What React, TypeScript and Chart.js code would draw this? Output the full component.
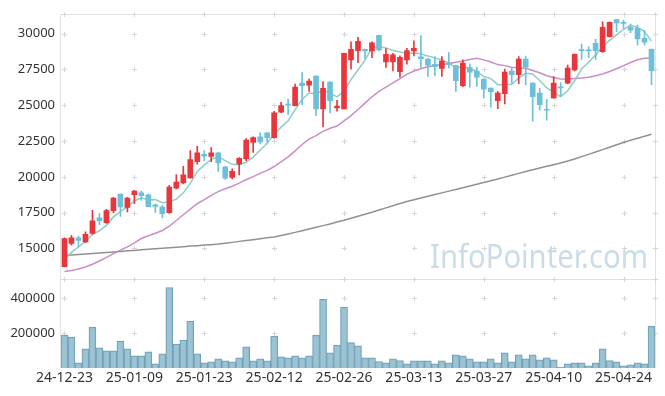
import React, { useEffect, useRef } from 'react';
import { Chart, registerables } from 'chart.js';
Chart.register(...registerables);

const dates = [
  '24-12-23','24-12-24','24-12-26','24-12-27','24-12-30','25-01-02','25-01-03','25-01-06','25-01-07','25-01-08',
  '25-01-09','25-01-10','25-01-13','25-01-14','25-01-15','25-01-16','25-01-17','25-01-20','25-01-21','25-01-22',
  '25-01-23','25-01-24','25-01-31','25-02-03','25-02-04','25-02-05','25-02-06','25-02-07','25-02-10','25-02-11',
  '25-02-12','25-02-13','25-02-14','25-02-17','25-02-18','25-02-19','25-02-20','25-02-21','25-02-24','25-02-25',
  '25-02-26','25-02-27','25-02-28','25-03-04','25-03-05','25-03-06','25-03-07','25-03-10','25-03-11','25-03-12',
  '25-03-13','25-03-14','25-03-17','25-03-18','25-03-19','25-03-20','25-03-21','25-03-24','25-03-25','25-03-26',
  '25-03-27','25-03-28','25-03-31','25-04-01','25-04-02','25-04-03','25-04-04','25-04-07','25-04-08','25-04-09',
  '25-04-10','25-04-11','25-04-14','25-04-15','25-04-16','25-04-17','25-04-18','25-04-21','25-04-22','25-04-23',
  '25-04-24','25-04-25','25-04-28','25-04-29','25-04-30',
];

const opens = [
  13720,15350,15740,15460,16040,17130,16800,17640,18790,17870,
  18750,18890,18750,18050,17890,17500,19210,19580,19930,21060,
  21570,21430,21670,20690,19950,20900,21250,22410,22800,23080,
  22730,24510,25090,24970,26550,26410,27030,24740,26620,24810,
  24740,28170,28820,28910,28790,29880,28030,28030,27340,28170,
  28790,28380,28220,27860,27570,27940,27770,26360,27640,27380,
  26830,26200,25320,25810,27380,27130,28220,26550,25850,24690,
  25510,26270,26550,27470,28870,28850,29330,28750,29790,30990,
  30760,30440,30370,29670,28910,
];
const highs = [
  15740,15920,15850,16150,17660,17430,17730,18560,18800,18560,
  19050,19000,18790,18100,18000,19400,20160,20740,21830,22130,
  21830,22040,21700,20720,20550,21350,22680,22800,23080,23100,
  24580,25200,25440,26480,27290,26830,27050,26660,26650,25340,
  28650,29440,29740,28930,29440,29900,28960,28630,28450,28980,
  29510,29860,28260,28400,28400,28680,27800,28170,27890,27660,
  26850,26220,25970,27520,27590,28400,28400,26560,26200,25390,
  27010,26590,27800,28590,29280,29090,29600,30830,30830,31000,
  30950,30670,30600,30210,28950,
];
const lows = [
  13700,15230,15110,15400,16000,16660,16740,17500,17240,17540,
  18120,18350,17910,17520,17130,17450,19150,19500,19900,20880,
  21130,21060,20370,19810,19860,20140,21130,21710,22300,22400,
  22700,24480,24350,24950,25040,25970,24280,23490,24470,24580,
  24740,27520,27980,28280,28330,28800,27640,27400,26960,27870,
  28450,27590,27010,27060,27010,27590,25970,26300,26270,26320,
  25510,24860,24770,25090,26550,26500,26430,23890,24650,23950,
  25480,25620,26500,27400,28210,28330,28210,28700,29750,30140,
  30370,30070,29210,29210,26430,
];
const closes = [
  15690,15740,15560,15990,16920,16940,17640,18520,17890,18520,
  19000,18680,17910,17940,17430,19280,19630,20140,21200,21670,
  21440,21670,20970,19900,20390,21290,22560,22750,22430,22730,
  24470,24970,25000,26270,26360,26690,24740,26180,25320,24950,
  28630,28910,29470,28790,29370,28860,28560,28520,28350,28820,
  28980,28260,27800,27700,28080,27850,26710,27940,27310,26970,
  26130,25950,25850,27310,27130,28220,27660,25600,25040,24650,
  26550,26220,27590,28560,28820,28800,28820,30440,30790,30760,
  30720,30250,29630,29400,27410,
];
const volumes = [
  188400,177100,29750,109100,233800,114700,97750,97750,154400,109100,
  69400,69400,92100,24100,80750,460400,137400,160100,267800,80750,
  29750,35400,52400,41100,35400,58100,120400,41100,52400,41100,
  182800,63750,58100,69400,58100,69400,188400,392400,86400,131700,
  349000,145000,126100,58100,58100,37300,29750,52400,43000,24100,
  41100,41100,41100,24100,41100,29750,75100,69400,52400,35400,
  35400,52400,29750,86400,35400,75100,52400,75100,46700,58100,
  46700,5000,24100,29750,29750,12700,29750,109100,43000,35400,
  12700,18400,29750,24100,239400,
];
const ma5 = [
  14190,14720,15110,15460,15980,16230,16610,17200,17580,17900,
  18310,18520,18400,18410,18190,18250,18440,18880,19540,20380,
  20820,21220,21390,21130,20870,20840,21020,21380,21880,22350,
  22990,23470,23920,24690,25410,25860,25810,26050,25860,25580,
  25960,26800,27460,28150,29030,29080,29010,28820,28730,28620,
  28650,28590,28440,28310,28160,27940,27630,27660,27580,27360,
  27010,26860,26440,26440,26470,26890,27230,27180,26730,26230,
  25900,25610,26010,26710,27550,28000,28520,29090,29530,29920,
  30310,30590,30430,30150,29480,
];
const ma20 = [
  13380,13450,13560,13700,13890,14120,14370,14630,14880,15110,
  15390,15690,15880,16060,16250,16550,16950,17350,17740,18120,
  18400,18700,18970,19170,19340,19560,19800,20010,20240,20450,
  20720,21040,21390,21810,22260,22630,22880,23180,23390,23550,
  23910,24280,24700,25150,25590,25970,26270,26560,26860,27160,
  27390,27550,27690,27760,27850,27910,28010,28090,28190,28290,
  28170,28020,27840,27770,27650,27620,27580,27430,27270,27060,
  26940,26830,26820,26870,26900,26950,27060,27180,27360,27550,
  27770,27990,28180,28280,28300,
];
const ma120 = [
  14500,14540,14570,14610,14640,14680,14720,14750,14790,14830,
  14860,14900,14940,14970,15010,15050,15080,15120,15160,15190,
  15230,15260,15300,15360,15420,15490,15550,15610,15670,15740,
  15800,15900,16010,16120,16230,16350,16470,16590,16710,16840,
  16960,17100,17240,17380,17530,17680,17830,17980,18130,18270,
  18400,18520,18640,18760,18880,19000,19120,19240,19360,19480,
  19600,19720,19850,19980,20110,20240,20370,20500,20620,20740,
  20850,20970,21100,21250,21410,21570,21730,21900,22070,22240,
  22400,22550,22700,22840,22980,
];
const priceTicks = [15000, 17500, 20000, 22500, 25000, 27500, 30000];
const volumeTicks = [200000, 400000];
const priceMin = 12830;
const priceMax = 31390;
const xTickEvery = 10;
const watermark = 'InfoPointer.com';

const RED = '#e8363c';
const BLUE = '#6cc0da';
const FONT = '"Noto Sans", sans-serif';

export default function App() {
  const ref = useRef<HTMLCanvasElement>(null);
  useEffect(() => {
    document.body.style.margin = '0';
    const canvas = ref.current!;
    const colors = closes.map((c, i) => (c >= opens[i] ? RED : BLUE));
    const vmax = Math.max(...volumes) * 1.1;

    const gridPlugin = {
      id: 'crossGrid',
      beforeDatasetsDraw(chart: any) {
        const { ctx, chartArea: a, scales } = chart;
        const x = scales.x, y = scales.y, yv = scales.yv;
        ctx.save();
        ctx.font = `33px ${FONT}`;
        const w = ctx.measureText(watermark).width;
        const targetW = 218;
        ctx.fillStyle = '#cadde7';
        ctx.textBaseline = 'alphabetic';
        ctx.textAlign = 'left';
        ctx.translate(a.right - 7 - targetW, y.bottom - 11);
        ctx.scale(targetW / w, 1);
        ctx.fillText(watermark, 0, 0);
        ctx.restore();

        ctx.save();
        ctx.strokeStyle = '#e2e2e2';
        ctx.lineWidth = 1;
        const L = Math.round(a.left) - 0.5;
        const R = Math.round(a.right) + 0.5;
        const T = Math.round(a.top) + 0.5;
        const B = Math.round(a.bottom) - 0.5;
        const S = Math.round(y.bottom) + 0.5;
        ctx.beginPath();
        ctx.moveTo(L, T); ctx.lineTo(R, T);
        ctx.moveTo(L, T); ctx.lineTo(L, B);
        ctx.moveTo(R, T); ctx.lineTo(R, B);
        ctx.moveTo(L, S); ctx.lineTo(R, S);
        ctx.moveTo(L, B); ctx.lineTo(R, B);
        ctx.stroke();

        const xs: number[] = [];
        for (let i = 0; i < dates.length; i += xTickEvery) xs.push(Math.round(x.getPixelForValue(i)) + 0.5);
        xs.push(R);
        const ys: number[] = [T, S];
        priceTicks.forEach((t) => ys.push(Math.round(y.getPixelForValue(t)) + 0.5));
        volumeTicks.forEach((t) => ys.push(Math.round(yv.getPixelForValue(t)) + 0.5));
        ctx.strokeStyle = '#d6d6d6';
        ctx.beginPath();
        xs.forEach((px) => {
          ys.forEach((py) => {
            ctx.moveTo(px - 2.5, py); ctx.lineTo(px + 2.5, py);
            ctx.moveTo(px, py - 2.5); ctx.lineTo(px, py + 2.5);
          });
        });
        ctx.stroke();
        ctx.restore();
      },
    };

    const tickFont = { family: FONT, size: 13 };

    const chart = new Chart(canvas, {
      type: 'bar',
      data: {
        labels: dates,
        datasets: [
          {
            type: 'bar',
            label: 'body',
            data: opens.map((o, i) => [o, closes[i]]) as any,
            backgroundColor: colors,
            barThickness: 5,
            grouped: false,
            minBarLength: 1,
            yAxisID: 'y',
            order: 0,
          },
          {
            type: 'bar',
            label: 'wick',
            data: lows.map((l, i) => [l, highs[i]]) as any,
            backgroundColor: colors,
            barThickness: 1,
            grouped: false,
            yAxisID: 'y',
            order: 1,
          },
          {
            type: 'line',
            label: 'MA5',
            data: ma5,
            borderColor: 'rgba(130,200,188,0.9)',
            borderWidth: 1.5,
            pointRadius: 0,
            tension: 0,
            yAxisID: 'y',
            order: 2,
          },
          {
            type: 'line',
            label: 'MA20',
            data: ma20,
            borderColor: 'rgba(198,135,198,0.95)',
            borderWidth: 1.5,
            pointRadius: 0,
            tension: 0,
            yAxisID: 'y',
            order: 3,
          },
          {
            type: 'line',
            label: 'MA120',
            data: ma120,
            borderColor: 'rgba(145,145,145,1)',
            borderWidth: 1.5,
            pointRadius: 0,
            tension: 0,
            yAxisID: 'y',
            order: 4,
          },
          {
            type: 'bar',
            label: 'volume',
            data: volumes,
            backgroundColor: 'rgba(145,188,206,0.9)',
            borderColor: '#6e9fb4',
            borderWidth: 1,
            barPercentage: 1,
            categoryPercentage: 1,
            grouped: false,
            yAxisID: 'yv',
            order: 5,
          },
        ] as any,
      },
      options: {
        responsive: false,
        animation: false,
        events: [],
        layout: { padding: { top: 10, right: 10, left: 0, bottom: 0 } },
        plugins: { legend: { display: false }, tooltip: { enabled: false } },
        scales: {
          x: {
            type: 'category',
            offset: true,
            grid: { display: false, drawTicks: false },
            border: { display: false },
            ticks: {
              autoSkip: false,
              maxRotation: 0,
              padding: 2,
              color: '#333',
              font: { family: FONT, size: 14 },
              callback: (_v: any, i: number) => (i % xTickEvery === 0 ? dates[i] : ''),
            },
            afterFit: (axis: any) => { axis.height = 28; },
          },
          yv: {
            type: 'linear',
            position: 'left',
            stack: 'panel',
            stackWeight: 1,
            min: 0,
            max: vmax,
            grid: { display: false, drawTicks: false },
            border: { display: false },
            ticks: {
              padding: 6,
              color: '#333',
              font: tickFont,
              callback: (v: any) => String(v),
            },
            afterBuildTicks: (axis: any) => { axis.ticks = volumeTicks.map((v) => ({ value: v })); },
            afterFit: (axis: any) => { axis.width = 61; },
          },
          y: {
            type: 'linear',
            position: 'left',
            stack: 'panel',
            stackWeight: 3,
            min: priceMin,
            max: priceMax,
            grid: { display: false, drawTicks: false },
            border: { display: false },
            ticks: {
              padding: 6,
              color: '#333',
              font: tickFont,
              callback: (v: any) => String(v),
            },
            afterBuildTicks: (axis: any) => { axis.ticks = priceTicks.map((v) => ({ value: v })); },
            afterFit: (axis: any) => { axis.width = 61; },
          },
        },
      } as any,
      plugins: [gridPlugin],
    });
    return () => chart.destroy();
  }, []);

  return (
    <div style={{ width: 665, height: 396 }}>
      <canvas ref={ref} width={665} height={396} style={{ display: 'block' }} />
    </div>
  );
}
